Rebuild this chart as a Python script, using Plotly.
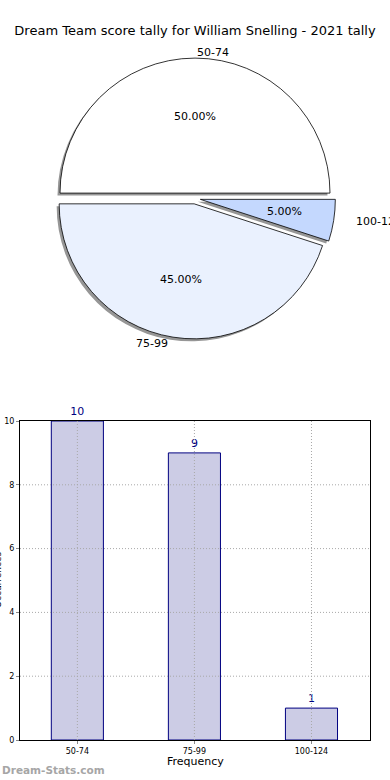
import math
import plotly.graph_objects as go

# ---------------- data ----------------
title_text = "Dream Team score tally for William Snelling - 2021 tally"
categories = ["50-74", "75-99", "100-124"]
counts = [10, 9, 1]
pie_colors = ["#ffffff", "#eaf1fe", "#c4d8fe"]
y_ticks = [0, 2, 4, 6, 8, 10]
x_title = "Frequency"
y_title = "Occurrences"
watermark = "Dream-Stats.com"

W, H = 390, 780
FONT = "DejaVu Sans"

# ---------------- pie geometry ----------------
cx, cy = 195, 198.5        # pie centre in px
r = 135                    # drawn pie radius in px
rx, ry = 141, 128.5        # reference (elliptical) radii used for text placement
pull = 0.04
half = r * (1 + pull)
shadow_dx, shadow_dy = -2.5, 2.5


def dom(cxp, cyp):
    return dict(x=[(cxp - half) / W, (cxp + half) / W],
                y=[1 - (cyp + half) / H, 1 - (cyp - half) / H])


fig = go.Figure()

# shadow pie
fig.add_trace(go.Pie(
    labels=categories, values=counts, sort=False, direction="counterclockwise",
    rotation=-90, pull=[pull] * len(counts), textinfo="none", hoverinfo="skip",
    marker=dict(colors=["rgb(150,150,150)"] * len(counts), line=dict(width=0)),
    domain=dom(cx + shadow_dx, cy + shadow_dy), showlegend=False,
))
# main pie
fig.add_trace(go.Pie(
    labels=categories, values=counts, sort=False, direction="counterclockwise",
    rotation=-90, pull=[pull] * len(counts), textinfo="none", hoverinfo="label+percent",
    marker=dict(colors=pie_colors, line=dict(color="black", width=0.8)),
    domain=dom(cx, cy), showlegend=False,
))

annotations = []
total = sum(counts)
cum = 0
for lab, v in zip(categories, counts):
    mid = math.radians(360 * (cum + v / 2) / total)
    cum += v
    c, s = math.cos(mid), math.sin(mid)
    ox, oy = cx + pull * rx * c, cy - pull * ry * s
    # percentage
    px, py = ox + 0.6 * rx * c, oy - 0.6 * ry * s
    annotations.append(dict(x=px / W, y=1 - py / H, xref="paper", yref="paper",
                            text=f"{100 * v / total:.2f}%", showarrow=False,
                            font=dict(family=FONT, size=11, color="black"),
                            xanchor="center", yanchor="middle"))
    # label
    lx, ly = ox + 1.1 * rx * c, oy - 1.1 * ry * s
    annotations.append(dict(x=lx / W, y=1 - ly / H, xref="paper", yref="paper",
                            text=lab, showarrow=False,
                            font=dict(family=FONT, size=11, color="black"),
                            xanchor="left" if c >= 0 else "right", yanchor="middle"))

# ---------------- bar chart ----------------
fig.add_trace(go.Bar(
    x=categories, y=counts, width=0.445,
    marker=dict(color="rgb(204,204,229)", line=dict(color="#000080", width=1)),
    text=[str(v) for v in counts], textposition="outside", cliponaxis=False,
    textfont=dict(family=FONT, size=11, color="#000080"),
    xaxis="x", yaxis="y", showlegend=False,
))

grid_line = dict(color="#a8a8a8", width=1, dash="1px,2px")
shapes = []
for cat in categories:
    shapes.append(dict(type="line", xref="x", yref="y", x0=cat, x1=cat, y0=0, y1=max(y_ticks),
                       line=grid_line, layer="above"))
for t in y_ticks[1:-1]:
    shapes.append(dict(type="line", xref="x domain", yref="y", x0=0, x1=1, y0=t, y1=t,
                       line=grid_line, layer="above"))

# axis titles and watermark
annotations.append(dict(x=195 / W, y=1 - 761 / H, xref="paper", yref="paper", text=x_title,
                        showarrow=False, font=dict(family=FONT, size=11, color="black"),
                        xanchor="center", yanchor="middle"))
annotations.append(dict(x=-2 / W, y=1 - 580 / H, xref="paper", yref="paper", text=y_title,
                        textangle=-90, showarrow=False,
                        font=dict(family=FONT, size=9, color="black"),
                        xanchor="center", yanchor="middle"))
annotations.append(dict(x=0, y=1 - 770 / H, xref="paper", yref="paper", text=f"<b>{watermark}</b>",
                        showarrow=False, font=dict(family=FONT, size=10.5, color="#a6a6a6"),
                        xanchor="left", yanchor="middle"))

fig.update_layout(
    width=W, height=H, margin=dict(l=0, r=0, t=0, b=0),
    paper_bgcolor="white", plot_bgcolor="white",
    title=dict(text=title_text, x=0.5, xanchor="center", y=1 - 30 / H, yanchor="middle",
               font=dict(family=FONT, size=13, color="black")),
    xaxis=dict(domain=[20 / W, 370 / W], range=[-0.49, 2.5], type="category",
               showgrid=False, showline=True, linecolor="black", linewidth=1, mirror=True,
               ticks="outside", ticklen=3, tickcolor="#888888",
               tickfont=dict(family=FONT, size=8, color="black"), automargin=False,
               anchor="y", fixedrange=True),
    yaxis=dict(domain=[1 - 740 / H, 1 - 421 / H], range=[0, 10], tickvals=y_ticks,
               showgrid=False, showline=True, linecolor="black", linewidth=1, mirror=True,
               ticks="outside", ticklen=3, tickcolor="#888888", zeroline=False,
               tickfont=dict(family=FONT, size=8, color="black"), automargin=False,
               anchor="x", fixedrange=True),
    shapes=shapes, annotations=annotations,
    font=dict(family=FONT),
)

fig.write_html("out.html", config={"displayModeBar": False},
               post_script="document.body.style.margin='0';")
